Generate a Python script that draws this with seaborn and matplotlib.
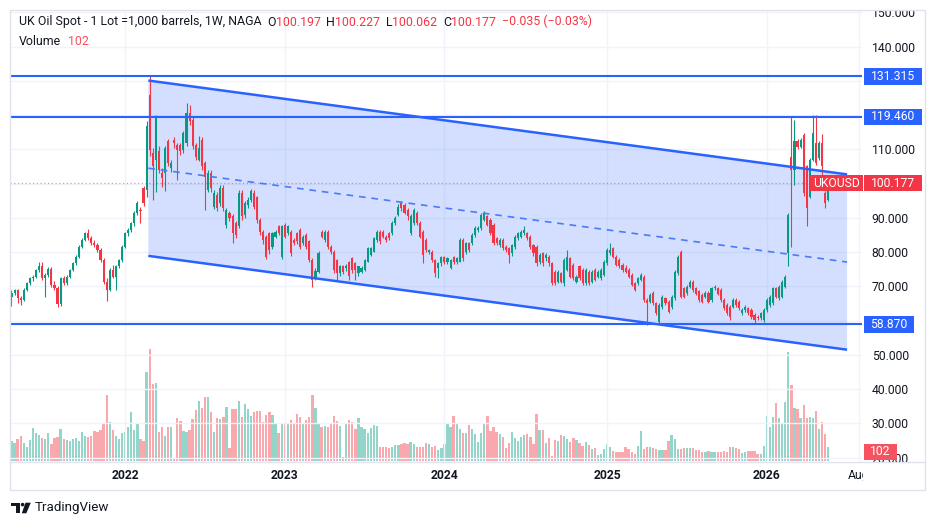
import numpy as np
import pandas as pd
import matplotlib
matplotlib.use("Agg")
import matplotlib.pyplot as plt
import matplotlib.dates as mdates
from matplotlib.patches import Rectangle, Polygon, Circle
from matplotlib.transforms import Affine2D, blended_transform_factory
import seaborn as sns

W, H = 936, 526

# weekly candles, first bar week of 2021-04-19
first_week = "2021-04-19"
opens = [
    67.0, 68.0, 68.8, 66.5, 66.0, 69.0, 70.9, 72.3, 72.8, 74.8,
    75.8, 72.3, 73.3, 75.0, 70.5, 69.4, 64.8, 72.3, 70.9, 72.8,
    74.8, 76.7, 78.7, 81.6, 83.6, 85.5, 84.0, 82.6, 82.0, 80.6,
    77.7, 71.4, 69.0, 74.8, 72.8, 75.8, 77.7, 81.6, 85.5, 86.5,
    88.4, 91.4, 92.3, 98.7, 98.2, 126.0, 109.0, 107.0, 109.4, 103.0,
    103.0, 112.3, 104.5, 112.8, 111.3, 111.3, 109.9, 111.8, 120.6, 118.7,
    111.3, 107.0, 112.8, 106.0, 98.2, 103.1, 93.3, 96.7, 94.3, 98.7,
    88.0, 91.4, 90.4, 88.4, 87.5, 97.2, 90.9, 93.8, 95.3, 97.2,
    96.2, 89.4, 86.0, 84.5, 85.5, 81.6, 84.5, 87.5, 78.7, 88.0,
    85.5, 86.0, 83.6, 85.5, 86.5, 82.6, 85.0, 83.1, 77.7, 72.5,
    74.3, 86.0, 83.6, 86.0, 81.6, 80.1, 77.7, 73.8, 75.8, 75.3,
    77.2, 78.2, 76.7, 73.8, 74.3, 74.8, 77.2, 79.2, 80.1, 83.6,
    86.0, 86.0, 84.5, 85.5, 85.5, 88.4, 90.9, 94.3, 93.8, 92.3,
    85.5, 88.4, 91.4, 88.4, 86.0, 83.6, 80.1, 80.1, 77.7, 75.3,
    76.7, 78.7, 77.2, 75.3, 78.7, 77.2, 77.2, 83.6, 80.1, 82.6,
    82.6, 85.0, 86.5, 87.0, 89.4, 90.4, 89.4, 88.0, 84.0, 82.1,
    83.6, 81.6, 81.1, 79.7, 81.6, 84.0, 84.5, 85.5, 85.5, 84.5,
    82.1, 81.6, 77.2, 79.7, 78.2, 78.7, 76.7, 74.3, 71.4, 73.8,
    70.9, 74.8, 78.2, 76.2, 71.4, 75.8, 74.8, 70.9, 74.3, 71.4,
    74.8, 72.8, 72.3, 73.3, 76.7, 79.7, 81.1, 78.7, 77.7, 76.2,
    75.3, 74.8, 73.3, 70.9, 70.9, 71.9, 72.8, 66.0, 65.5, 68.0,
    65.0, 59.7, 64.0, 66.5, 65.5, 64.0, 66.5, 73.8, 80.1, 69.4,
    68.0, 69.9, 71.4, 69.4, 68.5, 67.5, 67.0, 68.0, 66.0, 69.4,
    69.4, 68.9, 66.0, 64.6, 64.1, 64.1, 66.0, 65.5, 62.1, 63.1,
    63.6, 63.1, 61.6, 61.1, 60.7, 60.2, 63.1, 64.6, 65.0, 69.4,
    66.5, 67.0, 69.9, 79.7, 107.9, 104.0, 112.3, 110.8, 114.3, 105.0,
    96.2, 107.0, 111.8, 107.4, 111.8, 97.2, 95.3, 100.197,
]
highs = [
    69.0, 69.2, 69.3, 67.2, 69.4, 71.4, 72.8, 73.4, 75.2, 77.2,
    77.2, 74.0, 75.6, 75.6, 71.5, 70.0, 72.8, 73.0, 73.3, 75.2,
    77.2, 79.1, 82.0, 84.0, 86.0, 86.8, 84.8, 83.4, 82.8, 81.2,
    78.3, 72.5, 75.3, 76.2, 76.3, 78.1, 82.0, 86.0, 87.0, 88.9,
    91.9, 94.8, 93.3, 99.3, 118.2, 131.3, 110.5, 120.1, 111.0, 104.5,
    111.0, 113.0, 107.0, 113.5, 112.0, 112.0, 115.5, 123.5, 123.0, 119.5,
    112.0, 114.0, 113.5, 106.5, 104.0, 104.0, 98.0, 97.5, 99.5, 99.5,
    93.0, 92.0, 91.0, 89.0, 98.0, 98.0, 95.0, 96.0, 98.5, 98.0,
    96.5, 90.0, 86.5, 85.0, 86.0, 86.0, 86.5, 88.0, 88.0, 88.5,
    88.0, 86.5, 84.0, 86.0, 87.0, 85.0, 85.5, 83.5, 78.2, 75.5,
    80.2, 86.5, 86.5, 86.5, 82.0, 80.5, 78.0, 76.2, 76.2, 76.5,
    77.5, 78.5, 77.0, 76.0, 75.8, 78.0, 81.5, 81.5, 84.5, 86.5,
    86.5, 86.5, 85.0, 86.0, 89.0, 90.5, 94.0, 94.8, 94.3, 92.8,
    91.0, 92.8, 92.0, 89.0, 86.5, 84.0, 81.0, 80.5, 78.0, 77.0,
    79.0, 79.0, 78.7, 78.0, 79.0, 78.7, 84.0, 84.0, 83.0, 83.0,
    85.5, 87.5, 87.5, 91.4, 91.9, 90.9, 89.9, 88.5, 84.5, 84.0,
    84.0, 82.0, 81.5, 82.5, 85.0, 86.0, 86.5, 87.5, 86.0, 85.0,
    82.5, 82.0, 79.7, 80.0, 79.7, 79.2, 77.2, 74.8, 74.8, 74.3,
    78.2, 80.6, 78.7, 76.7, 73.3, 76.2, 75.3, 75.3, 74.8, 74.8,
    75.3, 74.8, 75.3, 77.7, 81.1, 82.6, 81.6, 79.2, 78.2, 76.7,
    76.2, 75.3, 73.8, 71.4, 72.8, 73.8, 73.3, 66.5, 68.0, 68.5,
    65.5, 65.0, 67.5, 67.0, 66.0, 67.5, 74.8, 79.2, 80.6, 69.9,
    70.4, 71.9, 71.9, 69.9, 69.0, 68.0, 68.5, 68.5, 69.9, 70.4,
    69.9, 69.4, 66.5, 65.1, 64.6, 66.5, 66.5, 66.0, 63.6, 64.6,
    64.1, 63.6, 62.1, 61.6, 62.6, 63.6, 66.5, 67.5, 69.9, 69.9,
    70.4, 71.9, 73.3, 91.4, 119.6, 118.7, 113.0, 113.3, 114.8, 105.5,
    107.5, 120.1, 120.1, 112.3, 114.5, 97.7, 98.2, 100.227,
]
lows = [
    64.3, 67.4, 65.0, 64.5, 65.6, 68.6, 70.4, 71.6, 72.3, 74.3,
    71.8, 67.0, 72.6, 69.8, 68.8, 64.0, 64.4, 70.4, 70.5, 72.3,
    74.4, 76.3, 78.2, 81.2, 83.1, 83.6, 82.1, 81.5, 80.1, 77.2,
    70.6, 65.8, 68.6, 72.3, 68.9, 75.3, 77.2, 81.1, 84.6, 85.8,
    87.5, 90.9, 88.4, 93.5, 96.2, 108.0, 95.3, 97.5, 103.0, 99.0,
    97.7, 105.0, 103.5, 110.5, 101.0, 108.5, 109.0, 111.0, 117.0, 110.0,
    107.0, 106.5, 104.0, 92.3, 97.5, 97.5, 92.5, 92.0, 93.5, 92.0,
    87.0, 89.0, 82.6, 84.0, 87.0, 89.5, 90.0, 93.0, 94.5, 92.5,
    88.5, 85.0, 82.5, 78.0, 79.5, 81.0, 84.0, 85.0, 78.0, 84.0,
    85.0, 79.0, 82.0, 82.5, 81.0, 82.0, 81.0, 77.2, 69.9, 72.0,
    74.0, 84.0, 83.0, 81.0, 79.5, 74.0, 71.9, 73.0, 73.5, 74.5,
    71.9, 74.0, 71.9, 73.0, 74.0, 74.5, 77.0, 79.0, 80.0, 83.0,
    82.5, 84.0, 83.0, 83.5, 85.0, 88.0, 90.5, 92.0, 91.0, 89.5,
    85.0, 88.0, 88.0, 84.0, 76.7, 80.0, 79.5, 77.0, 72.8, 72.3,
    76.0, 76.5, 76.5, 75.0, 76.5, 76.5, 77.0, 77.5, 79.5, 80.0,
    82.0, 84.5, 86.0, 86.5, 89.0, 87.5, 85.0, 82.0, 82.0, 81.5,
    80.5, 80.0, 76.7, 79.0, 81.0, 83.5, 84.0, 85.0, 83.5, 81.0,
    79.0, 76.0, 76.5, 76.0, 77.5, 76.0, 70.5, 70.5, 71.0, 71.0,
    70.0, 74.5, 72.3, 71.8, 71.0, 71.8, 70.5, 70.5, 70.5, 71.0,
    71.5, 72.3, 72.0, 73.0, 76.2, 79.2, 78.2, 75.8, 75.3, 74.3,
    73.8, 72.3, 70.0, 68.5, 70.5, 71.5, 65.5, 58.7, 65.0, 64.5,
    61.6, 59.2, 63.5, 64.5, 62.1, 63.5, 66.0, 73.3, 66.5, 66.5,
    67.5, 69.4, 68.4, 67.4, 65.5, 65.0, 66.5, 65.0, 65.5, 68.9,
    67.4, 65.5, 63.1, 61.6, 60.2, 63.6, 64.1, 63.1, 61.6, 62.6,
    61.6, 60.6, 59.0, 60.2, 60.2, 59.7, 62.6, 64.1, 64.5, 66.5,
    66.0, 66.5, 69.4, 75.8, 81.6, 99.6, 110.0, 110.3, 96.5, 87.5,
    95.7, 106.5, 105.5, 106.9, 98.0, 92.8, 94.8, 100.062,
]
closes = [
    68.0, 68.8, 66.5, 66.0, 69.0, 70.9, 72.3, 72.8, 74.8, 75.8,
    72.3, 73.3, 75.0, 70.5, 69.4, 64.8, 72.3, 70.9, 72.8, 74.8,
    76.7, 78.7, 81.6, 83.6, 85.5, 84.0, 82.6, 82.0, 80.6, 77.7,
    71.4, 69.0, 74.8, 72.8, 75.8, 77.7, 81.6, 85.5, 86.5, 88.4,
    91.4, 94.3, 91.9, 94.3, 116.7, 109.9, 105.0, 119.6, 104.0, 101.6,
    110.4, 106.0, 106.0, 111.8, 109.9, 109.4, 114.8, 120.6, 118.2, 110.9,
    107.9, 110.4, 105.0, 102.0, 103.0, 98.7, 97.2, 92.8, 98.7, 92.8,
    92.3, 89.9, 85.5, 85.0, 97.2, 90.4, 94.3, 95.3, 97.7, 93.3,
    89.4, 86.0, 83.6, 78.7, 80.6, 85.5, 86.0, 85.5, 87.5, 84.5,
    87.5, 79.7, 82.6, 83.1, 81.6, 84.5, 81.6, 77.7, 71.9, 74.5,
    79.7, 84.5, 86.0, 81.6, 80.1, 74.8, 73.8, 75.8, 74.3, 75.8,
    72.9, 74.8, 74.8, 75.8, 75.3, 77.7, 81.1, 81.1, 84.0, 86.0,
    83.1, 84.5, 83.6, 84.0, 88.4, 89.9, 93.3, 92.8, 91.4, 90.4,
    90.4, 92.3, 88.4, 84.5, 79.2, 80.6, 80.6, 77.7, 73.8, 76.7,
    78.7, 77.2, 78.2, 77.7, 77.2, 78.2, 83.6, 78.2, 82.6, 80.6,
    85.0, 87.0, 87.0, 90.9, 91.4, 88.0, 85.5, 82.6, 82.6, 83.6,
    81.1, 80.6, 79.2, 82.1, 84.5, 85.5, 86.0, 86.5, 84.0, 81.6,
    79.7, 76.7, 79.2, 76.7, 79.2, 76.7, 70.9, 70.9, 74.3, 71.4,
    77.7, 78.7, 72.8, 72.3, 72.8, 72.3, 70.9, 74.8, 70.9, 74.3,
    71.9, 74.3, 74.8, 77.2, 80.6, 80.6, 78.7, 76.2, 75.8, 74.8,
    74.3, 72.8, 70.4, 69.0, 72.4, 73.3, 66.0, 65.0, 67.5, 65.0,
    62.1, 64.5, 67.0, 65.0, 62.6, 67.0, 74.3, 78.7, 67.0, 67.0,
    69.9, 71.4, 68.9, 67.9, 66.0, 65.5, 68.0, 65.5, 69.4, 69.9,
    67.9, 66.0, 63.6, 62.1, 61.1, 66.0, 64.6, 63.6, 63.1, 64.1,
    62.1, 61.1, 60.2, 60.7, 62.1, 63.1, 66.0, 67.0, 69.4, 67.0,
    69.9, 71.4, 72.8, 90.9, 104.0, 112.3, 110.8, 112.8, 97.2, 92.8,
    107.0, 114.8, 106.0, 111.8, 105.0, 94.3, 97.7, 100.177,
]
volume = [
    20, 18, 22, 25, 18, 14, 21, 33, 28, 26,
    23, 22, 28, 17, 23, 24, 32, 22, 21, 20,
    22, 23, 20, 29, 25, 24, 25, 30, 29, 31,
    38, 66, 39, 31, 25, 22, 28, 29, 34, 49,
    31, 38, 22, 20, 89, 112, 77, 78, 29, 34,
    25, 34, 34, 3, 43, 40, 30, 29, 31, 42,
    51, 60, 53, 64, 64, 49, 29, 43, 42, 44,
    54, 13, 52, 52, 60, 44, 57, 52, 45, 49,
    50, 50, 39, 46, 49, 46, 37, 28, 37, 38,
    37, 41, 38, 47, 44, 38, 41, 44, 66, 53,
    37, 34, 35, 34, 38, 45, 40, 35, 4, 37,
    41, 39, 32, 43, 34, 32, 28, 33, 36, 35,
    14, 14, 14, 13, 14, 16, 16, 17, 18, 17,
    19, 17, 14, 14, 14, 18, 17, 14, 15, 11,
    13, 17, 37, 34, 45, 37, 32, 28, 28, 36,
    32, 27, 19, 28, 38, 45, 30, 34, 29, 27,
    24, 13, 18, 29, 23, 20, 24, 26, 27, 24,
    17, 47, 31, 31, 18, 23, 5, 21, 20, 26,
    25, 22, 19, 23, 21, 18, 15, 19, 16, 12,
    13, 6, 7, 12, 17, 14, 10, 9, 9, 9,
    14, 12, 9, 7, 15, 30, 12, 14, 14, 13,
    12, 11, 11, 11, 20, 26, 22, 12, 12, 13,
    13, 13, 13, 11, 11, 9, 9, 10, 9, 9,
    9, 9, 10, 9, 14, 14, 13, 12, 8, 9,
    10, 10, 10, 7, 7, 15, 45, 34, 44, 58,
    43, 37, 59, 109, 76, 53, 52, 43, 56, 43,
    44, 43, 50, 32, 39, 27, 14, 0.3,
]

# drawing objects on the chart
levels = [131.315, 119.460, 58.870]
channel_dates = ["2022-02-25", "2026-07-07"]
channel_top = [130.1, 102.7]
channel_bottom = [78.9, 51.5]
channel_mid = [104.5, 77.1]
last_price = 100.177
price_ticks = [150, 140, 130, 120, 110, 100, 90, 80, 70, 60, 50, 40, 30, 20]
hidden_ticks = [130, 120, 100, 60]  # hidden behind the price tags in the reference
year_ticks = ["2022-01-03", "2023-01-02", "2024-01-01", "2025-01-06", "2026-01-05", "2026-08-03"]
year_labels = ["2022", "2023", "2024", "2025", "2026", "Aug"]

TEAL = "#089981"
RED = "#F23645"
BLUE = "#2962FF"
DARK = "#131722"
GRID = "#F0F3FA"
FS = 8.7
HFS = 8.95

sns.set_theme(style="white")
plt.rcParams["font.family"] = ["Roboto", "DejaVu Sans"]

fig = plt.figure(figsize=(W / 100, H / 100), dpi=100, facecolor="white")
ax = fig.add_axes([10 / W, (H - 461) / H, 852 / W, 451 / H])
axv = ax.twinx()
ax.set_zorder(axv.get_zorder() + 1)
ax.patch.set_visible(False)
ax.yaxis.tick_right()

dates = pd.date_range(first_week, periods=len(closes), freq="7D")
x = mdates.date2num(dates)
o = np.array(opens)
c = np.array(closes)
up = c >= o

# volume pane
vdf = pd.DataFrame({"x": x, "volume": volume, "dir": np.where(up, "up", "down")})
sns.barplot(data=vdf, x="x", y="volume", hue="dir", native_scale=True,
            palette={"up": "#93D5C9", "down": "#F9A8AE"}, dodge=False,
            legend=False, errorbar=None, width=0.75, saturation=1,
            linewidth=0, ax=axv)
axv.set_ylim(0, 451)
axv.set_yticks([])
axv.set_ylabel("")
axv.set_xlabel("")

# channel
cx = mdates.date2num(pd.to_datetime(channel_dates))
ax.fill([cx[0], cx[1], cx[1], cx[0]],
        [channel_top[0], channel_top[1], channel_bottom[1], channel_bottom[0]],
        color=BLUE, alpha=0.2, lw=0, zorder=1)
ax.plot(cx, channel_top, color=BLUE, lw=1.8, zorder=5, solid_capstyle="butt")
ax.plot(cx, channel_bottom, color=BLUE, lw=1.8, zorder=5, solid_capstyle="butt")
ax.plot(cx, channel_mid, color="#4A7BF7", lw=1.2, ls=(0, (4, 3.5)), zorder=5)
for lvl in levels:
    ax.axhline(lvl, color=BLUE, lw=1.5, zorder=5)
ax.axhline(last_price, color=RED, lw=0.9, ls=(0, (1, 2)), alpha=0.55, zorder=2)

# candles
col = np.where(up, TEAL, RED)
ax.vlines(x, lows, highs, colors=col, linewidth=0.8, zorder=3)
ax.bar(x, np.maximum(np.abs(c - o), 0.25), bottom=np.minimum(o, c), width=4.8,
       color=col, linewidth=0, zorder=4)

# axes, grid, ticks
ax.set_ylim(19.0, 150.7)
ax.set_xlim(x[0] - 3.4, x[0] + 277.0 * 7)
ax.set_yticks(price_ticks)
ax.set_yticklabels(["" if v in hidden_ticks else f"{v:.3f}" for v in price_ticks])
ax.set_xticks(mdates.date2num(pd.to_datetime(year_ticks)))
ax.set_xticklabels(year_labels)
for lbl in ax.get_xticklabels()[:-1]:
    lbl.set_fontweight("bold")
ax.tick_params(axis="y", length=0, pad=7, labelsize=FS, labelcolor=DARK)
ax.tick_params(axis="x", length=0, pad=6, labelsize=FS, labelcolor=DARK)
ax.grid(True, color=GRID, lw=1)
for a in (ax, axv):
    for s in a.spines.values():
        s.set_visible(False)
ax.set_xlabel("")
ax.set_ylabel("")

# price tags on the right scale
tr = blended_transform_factory(fig.transFigure, ax.transData)
tags = [(131.315, "131.315", BLUE, 864, 921.7), (119.460, "119.460", BLUE, 864, 921.7),
        (58.870, "58.870", BLUE, 864, 914.3), (last_price, "100.177", RED, 864, 921.7),
        (last_price, "UKOUSD", RED, 810, 862.7)]
for val, s, colr, x0, x1 in tags:
    ax.add_patch(Rectangle((x0 / W, val - 2.45), (x1 - x0) / W, 4.9, transform=tr,
                           facecolor=colr, edgecolor="none", clip_on=False, zorder=8))
    ax.text((x0 + x1) / 2 / W, val, s, transform=tr, ha="center", va="center",
            color="white", fontsize=FS, zorder=9, clip_on=False)
trv = blended_transform_factory(fig.transFigure, ax.transAxes)
ax.add_patch(Rectangle((864 / W, 1.5 / 451), 32.7 / W, 15.7 / 451, transform=trv,
                       facecolor="#F7525F", edgecolor="none", clip_on=False, zorder=8))
ax.text(880.3 / W, 9.35 / 451, "102", transform=trv, ha="center", va="center",
        color="white", fontsize=FS, zorder=9, clip_on=False)

# header legend
prev = ax.annotate("UK Oil Spot - 1 Lot =1,000 barrels, 1W, NAGA", xy=(19 / W, 1 - 22 / H),
                   xycoords="figure fraction", ha="left", va="center", fontsize=HFS, color=DARK)
parts = [("O", DARK, 4), ("100.197", RED, 0), ("H", DARK, 4), ("100.227", RED, 0),
         ("L", DARK, 4), ("100.062", RED, 0), ("C", DARK, 4), ("100.177", RED, 0),
         ("\u22120.035 (\u22120.03%)", RED, 4)]
for s, colr, gap in parts:
    prev = ax.annotate(s, xy=(1, 0), xycoords=prev, xytext=(gap, 0), textcoords="offset points",
                       ha="left", va="bottom", fontsize=HFS, color=colr)
prev = ax.annotate("Volume", xy=(19 / W, 1 - 41 / H), xycoords="figure fraction",
                   ha="left", va="center", fontsize=HFS, color=DARK)
ax.annotate("102", xy=(1, 0), xycoords=prev, xytext=(5, 0), textcoords="offset points",
            ha="left", va="bottom", fontsize=HFS, color="#F7525F")

# frame, covers and footer in pixel coordinates
tpx = Affine2D().scale(1 / W, -1 / H).translate(0, 1) + fig.transFigure
fig.add_artist(Rectangle((0, 0), W, 10.5, transform=tpx, facecolor="white", edgecolor="none", zorder=10))
fig.add_artist(Rectangle((863, 462), 61, 27, transform=tpx, facecolor="white", edgecolor="none", zorder=10))
fig.add_artist(Rectangle((10, 10), 915, 480, transform=tpx, facecolor="none", edgecolor="#E0E3EB", lw=1, zorder=11))
fig.add_artist(plt.Line2D([10, 925], [461.5, 461.5], transform=tpx, color="#E0E3EB", lw=1, zorder=11))
fig.add_artist(Rectangle((10.5, 502.7), 9.5, 3.5, transform=tpx, facecolor=DARK, edgecolor="none", zorder=11))
fig.add_artist(Rectangle((16, 502.7), 4, 10.6, transform=tpx, facecolor=DARK, edgecolor="none", zorder=11))
fig.add_artist(Circle((22.6, 504.6), 1.8, transform=tpx, facecolor=DARK, edgecolor="none", zorder=11))
fig.add_artist(Polygon([(25.5, 502.7), (30.8, 502.7), (26.3, 513.3), (21.8, 513.3)], closed=True,
                       transform=tpx, facecolor=DARK, edgecolor="none", zorder=11))
fig.text(35 / W, 1 - 508 / H, "TradingView", ha="left", va="center", fontsize=9.6, color=DARK)

fig.savefig("out.png", dpi=100, facecolor="white")
